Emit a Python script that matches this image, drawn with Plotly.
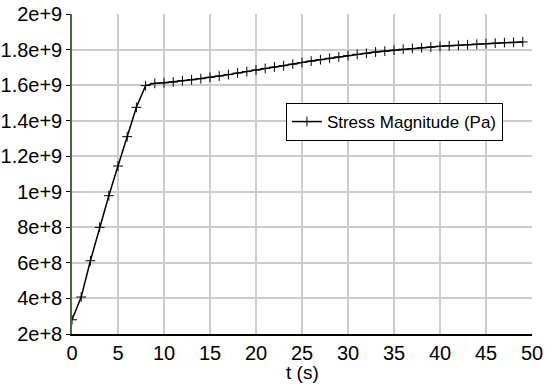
import plotly.graph_objects as go

# time samples (s)
t = list(range(0, 50))

# stress magnitude (Pa) at each time sample
stress = [
    2.80e8, 4.08e8, 6.12e8, 8.00e8, 9.78e8, 1.145e9, 1.310e9, 1.475e9, 1.597e9, 1.610e9,
    1.613e9, 1.617e9, 1.625e9, 1.630e9, 1.636e9, 1.644e9, 1.651e9, 1.659e9, 1.668e9, 1.676e9,
    1.685e9, 1.694e9, 1.702e9, 1.709e9, 1.718e9, 1.727e9, 1.735e9, 1.743e9, 1.751e9, 1.759e9,
    1.766e9, 1.773e9, 1.779e9, 1.786e9, 1.791e9, 1.797e9, 1.802e9, 1.806e9, 1.810e9, 1.814e9,
    1.818e9, 1.821e9, 1.824e9, 1.827e9, 1.830e9, 1.833e9, 1.836e9, 1.839e9, 1.841e9, 1.843e9,
]

x_ticks = [0, 5, 10, 15, 20, 25, 30, 35, 40, 45, 50]
y_ticks = [2e8, 4e8, 6e8, 8e8, 1e9, 1.2e9, 1.4e9, 1.6e9, 1.8e9, 2e9]
y_labels = ["2e+8", "4e+8", "6e+8", "8e+8", "1e+9", "1.2e+9", "1.4e+9", "1.6e+9", "1.8e+9", "2e+9"]

FONT = "Liberation Sans, Arial, Helvetica, sans-serif"

fig = go.Figure()
fig.add_trace(go.Scatter(
    x=t, y=stress, mode="lines+markers", name="Stress Magnitude (Pa)",
    line=dict(color="black", width=1.5),
    marker=dict(symbol="cross-thin", size=7, line=dict(color="black", width=1)),
))

# x-axis title placed just under the tick labels
fig.add_annotation(
    text="t (s)", xref="paper", yref="paper", x=0.5, y=-0.12,
    xanchor="center", yanchor="middle", showarrow=False,
    font=dict(family=FONT, size=19, color="black"),
)

fig.update_layout(
    width=549, height=389,
    margin=dict(l=72, r=17, t=14, b=55),
    paper_bgcolor="white", plot_bgcolor="white",
    font=dict(family=FONT, size=20, color="black"),
    showlegend=True,
    legend=dict(
        x=0.465, y=0.6625, xanchor="left", yanchor="middle",
        bgcolor="white", bordercolor="black", borderwidth=1,
        font=dict(family=FONT, size=17, color="black"),
        itemwidth=30, tracegroupgap=0,
    ),
    xaxis=dict(
        range=[0, 50], tickvals=x_ticks, ticktext=[str(v) for v in x_ticks],
        showgrid=True, gridcolor="#cccccc", gridwidth=1.5,
        showline=True, linecolor="black", linewidth=1.5,
        ticks="",
        zeroline=False, automargin=False,
    ),
    yaxis=dict(
        range=[2e8, 2e9], tickvals=y_ticks, ticktext=y_labels,
        showgrid=True, gridcolor="#cccccc", gridwidth=1.5,
        showline=True, linecolor="#476b32", linewidth=1.5,
        ticks="outside", ticklen=4, tickcolor="black",
        zeroline=False, automargin=False,
    ),
)

fig.write_html("out.html")
